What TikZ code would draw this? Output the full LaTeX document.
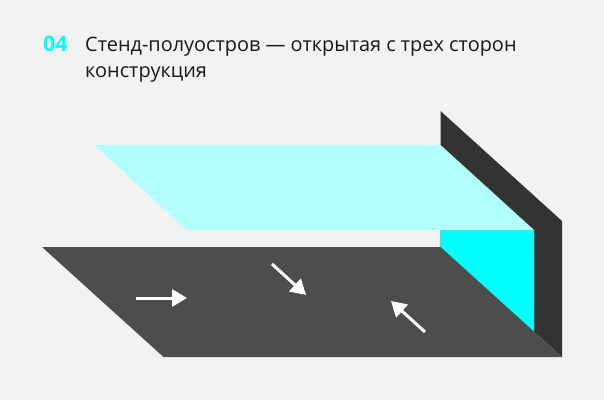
\documentclass[tikz,border=0pt]{standalone}
\usepackage{xcolor}
\usepackage{fontspec}
\setmainfont{Open Sans}
\usetikzlibrary{arrows.meta}
\definecolor{bgcol}{HTML}{F2F2F2}
\definecolor{floorcol}{HTML}{4D4D4D}
\definecolor{wallcol}{HTML}{333333}
\definecolor{cyancol}{HTML}{00FFFF}
\definecolor{roofcol}{HTML}{B3FFFF}
\tikzset{
  title/.style={inner sep=0pt,anchor=base west,font=\fontsize{19.9}{26}\selectfont,text=black!90},
  flow/.style={-{Triangle[length=15pt,width=17pt]},white,line width=3pt}
}

\begin{document}
\begin{tikzpicture}[x=1pt,y=-1pt]
            \fill[bgcol] (0,0) rectangle (604,400);
            \useasboundingbox (0,0) rectangle (604,400);

            \node[title,font=\fontsize{21.5}{26}\selectfont\bfseries,text=cyancol] (num) at (43,51) {04};
            \node[title,align=left] (headline) at (85,77) {Стенд-полуостров — открытая с трех сторон\\конструкция};

            \fill[wallcol] (440.5,111) -- (562,221) -- (562,357) -- (440.5,247) -- cycle;
            \fill[cyancol] (440.5,230) -- (534,230) -- (534,332) -- (440.5,247) -- cycle;
            \fill[roofcol] (94.5,145) -- (440.5,145) -- (534,230) -- (186.5,230) -- cycle;
            \fill[floorcol] (42,247) -- (440.5,247) -- (562,357) -- (163.5,357) -- cycle;

            \coordinate (a1) at (136,298);
            \coordinate (b1) at (187,298);
            \coordinate (a2) at (272,264);
            \coordinate (b2) at (306,295);
            \coordinate (a3) at (425,332);
            \coordinate (b3) at (391,301);
            \draw[flow] (a1) -- (b1);
            \draw[flow] (a2) -- (b2);
            \draw[flow] (a3) -- (b3);
          \end{tikzpicture}
\end{document}
